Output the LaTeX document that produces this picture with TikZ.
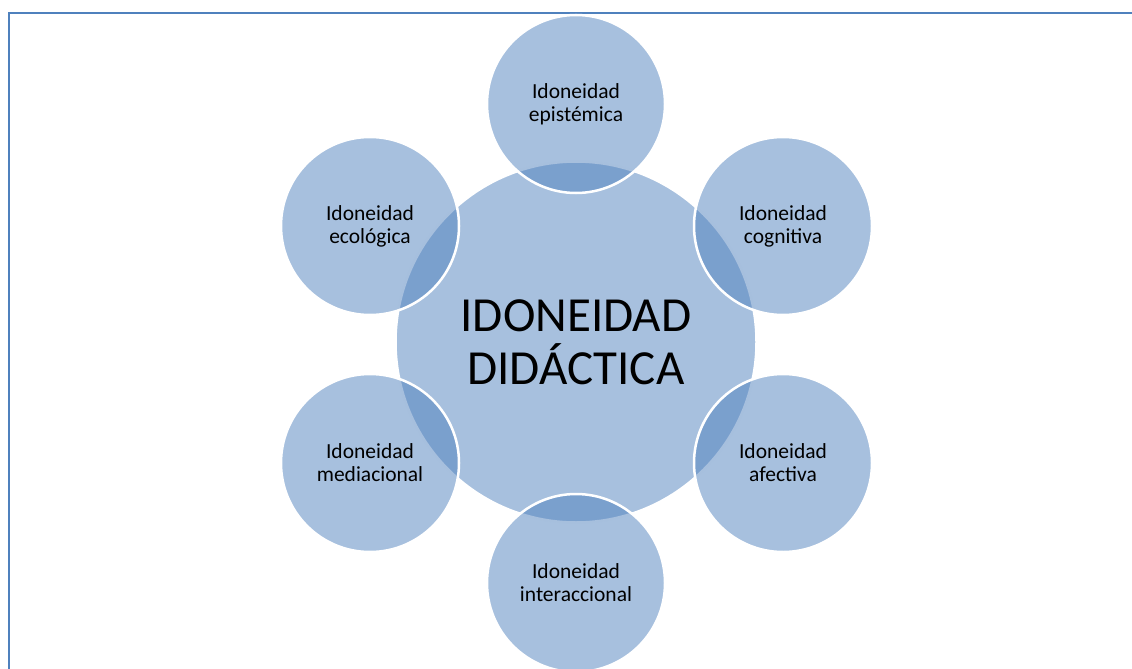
\documentclass[tikz,border=0pt]{standalone}
\usepackage{fontspec}
\setmainfont{Carlito}
\definecolor{accent}{HTML}{4F81BD}
\begin{document}
\begin{tikzpicture}[x=1pt,y=-1pt,
  disc/.style={circle, fill=accent, fill opacity=0.5, text opacity=1,
    draw=white, line width=2.5pt, inner sep=0pt, align=center, text=black},
  hub/.style={disc, minimum size=361pt, font=\fontsize{49}{53}\selectfont},
  petal/.style={disc, minimum size=178pt, font=\fontsize{21.5}{23}\selectfont},
  frame/.style={draw=accent, line width=2.2pt}]
\useasboundingbox (0,0) rectangle (1132,669);
% page frame (top and left edges)
\draw[frame] (9,669) -- (9,13) -- (1132,13);
% central disc
\node[hub] (hub) at (576,342) {IDONEIDAD\\DIDÁCTICA};
% six surrounding discs
\node[petal] (epi) at (576,104) {Idoneidad\\epistémica};
\node[petal] (cog) at (783,226) {Idoneidad\\cognitiva};
\node[petal] (afe) at (783,463) {Idoneidad\\afectiva};
\node[petal] (int) at (576,583) {Idoneidad\\interaccional};
\node[petal] (med) at (370,463) {Idoneidad\\mediacional};
\node[petal] (eco) at (370,226) {Idoneidad\\ecológica};
\end{tikzpicture}
\end{document}
